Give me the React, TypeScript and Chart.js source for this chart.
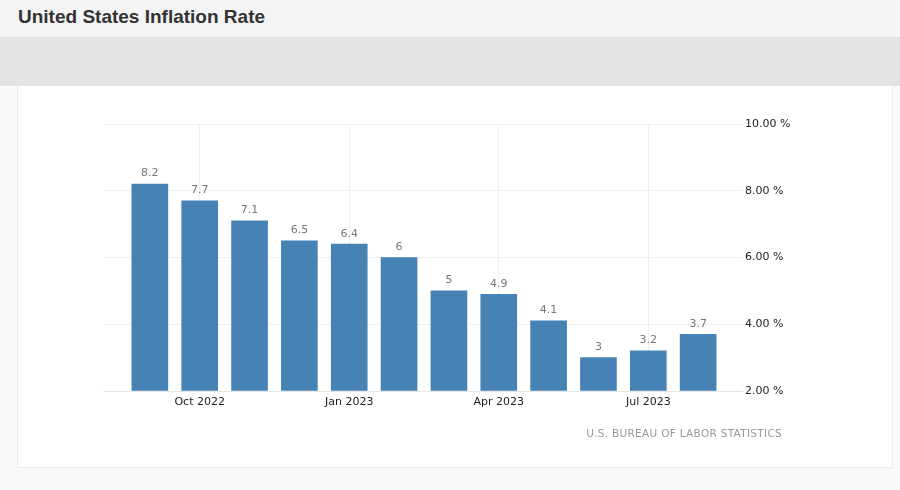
import { useEffect, useRef } from "react";
import Chart, { ChartConfiguration, Plugin } from "chart.js/auto";

// monthly CPI inflation, Sep 2022 .. Aug 2023
const months = [
  "Sep 2022", "Oct 2022", "Nov 2022", "Dec 2022",
  "Jan 2023", "Feb 2023", "Mar 2023", "Apr 2023",
  "May 2023", "Jun 2023", "Jul 2023", "Aug 2023",
];
const inflation = [8.2, 7.7, 7.1, 6.5, 6.4, 6, 5, 4.9, 4.1, 3, 3.2, 3.7];
const tickMonths = ["Oct 2022", "Jan 2023", "Apr 2023", "Jul 2023"];
const yTicks = [2, 4, 6, 8, 10];

const FONT = "'DejaVu Sans', Verdana, sans-serif";

const App: React.FC = () => {
  const canvasRef = useRef<HTMLCanvasElement | null>(null);
  const chartRef = useRef<Chart | null>(null);

  useEffect(() => {
    document.body.style.margin = "0";

    // value labels above each bar
    const ValueLabels: Plugin<"bar"> = {
      id: "valueLabels",
      afterDatasetsDraw(chart) {
        const ctx = chart.ctx;
        const meta = chart.getDatasetMeta(0);
        ctx.save();
        ctx.font = `11px ${FONT}`;
        ctx.fillStyle = "#777777";
        ctx.textAlign = "center";
        ctx.textBaseline = "bottom";
        meta.data.forEach((el: any, i) => {
          ctx.fillText(String(inflation[i]), el.x, el.y - 5);
        });
        ctx.restore();
      },
    };

    const tickIdx = tickMonths.map((m) => months.indexOf(m));

    const config: ChartConfiguration<"bar"> = {
      type: "bar",
      data: {
        datasets: [
          {
            data: inflation.map((v, i) => ({ x: i, y: v })) as any,
            backgroundColor: "#4682b4",
            borderWidth: 0,
            barThickness: 36,
            base: 2,
          },
        ],
      },
      options: {
        animation: false,
        responsive: true,
        maintainAspectRatio: false,
        layout: { padding: { left: 103, top: 38, right: 98, bottom: 53 } },
        plugins: {
          legend: { display: false },
          tooltip: { enabled: false },
        },
        scales: {
          x: {
            type: "linear",
            min: -0.94,
            max: 11.88,
            offset: false,
            afterBuildTicks(scale) {
              scale.ticks = tickIdx.map((v) => ({ value: v }));
            },
            afterFit(scale) {
              scale.height = 24;
            },
            grid: { color: "#f0f0f0", drawTicks: false, offset: false },
            border: { display: true, color: "#e6e6e6" },
            ticks: {
              padding: 5,
              color: "#222222",
              font: { family: FONT, size: 11 },
              autoSkip: false,
              maxRotation: 0,
              callback: (v) => months[Number(v)] ?? "",
            },
          },
          y: {
            position: "right",
            min: 2,
            max: 10,
            afterBuildTicks(scale) {
              scale.ticks = yTicks.map((v) => ({ value: v }));
            },
            afterFit(scale) {
              scale.width = 60;
            },
            grid: { color: "#f0f0f0", drawTicks: false },
            border: { display: false },
            ticks: {
              padding: 3,
              color: "#222222",
              font: { family: FONT, size: 11 },
              callback: (v) => Number(v).toFixed(2) + " %",
            },
          },
        },
      },
      plugins: [ValueLabels],
    };

    if (chartRef.current) chartRef.current.destroy();
    if (canvasRef.current) chartRef.current = new Chart(canvasRef.current, config as any);

    return () => {
      if (chartRef.current) {
        chartRef.current.destroy();
        chartRef.current = null;
      }
    };
  }, []);

  return (
    <div style={{ position: "relative", width: 900, height: 490, background: "#f9f9f9", overflow: "hidden" }}>
      <div
        style={{
          position: "absolute", left: 0, top: 0, width: 900, height: 37,
          background: "#f4f4f4",
        }}
      >
        <div
          style={{
            position: "absolute", left: 18, top: 6,
            fontFamily: "'Liberation Sans', Arial, sans-serif",
            fontWeight: "bold", fontSize: 19, color: "#333333",
          }}
        >
          United States Inflation Rate
        </div>
      </div>
      <div style={{ position: "absolute", left: 0, top: 37, width: 900, height: 49, background: "#e3e3e3" }} />
      <div
        style={{
          position: "absolute", left: 17, top: 86, width: 874, height: 381,
          background: "#ffffff", borderLeft: "1px solid #ececec",
          borderRight: "1px solid #ececec", borderBottom: "1px solid #ececec",
        }}
      />
      <div style={{ position: "absolute", left: 0, top: 86, width: 900, height: 382 }}>
        <canvas ref={canvasRef} />
      </div>
      <div
        style={{
          position: "absolute", right: 118, top: 427,
          fontFamily: FONT, fontSize: 10.5, color: "#999999", letterSpacing: 0.3,
        }}
      >
        U.S. BUREAU OF LABOR STATISTICS
      </div>
    </div>
  );
};

export default App;
